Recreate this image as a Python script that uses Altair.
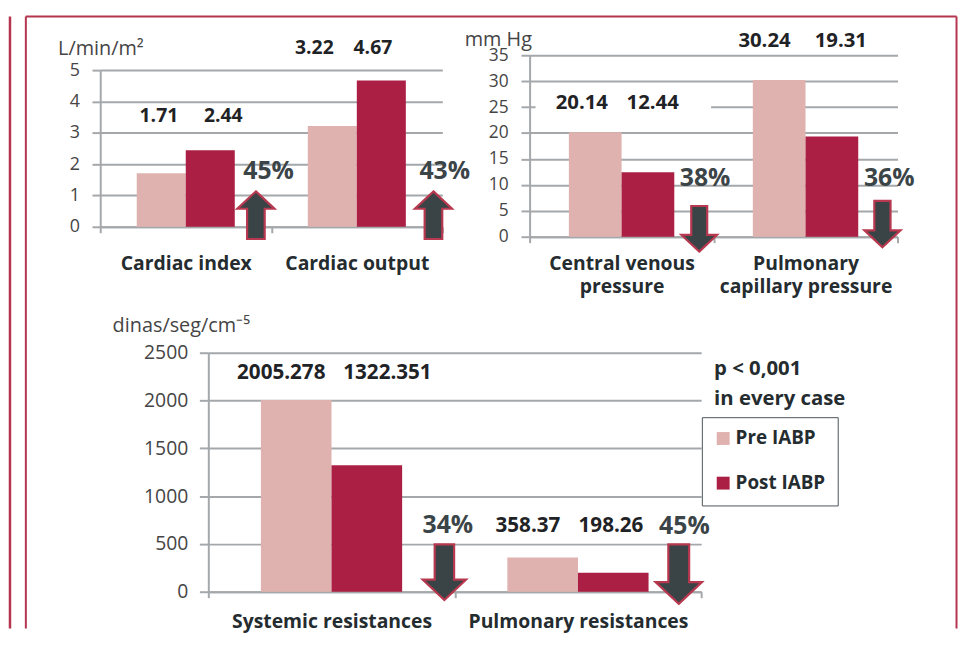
import altair as alt
import pandas as pd

# ---------------- data ----------------
series = ["Pre IABP", "Post IABP"]
series_colors = ["#dfb2af", "#ab1f45"]

ci_co_categories = ["Cardiac index", "Cardiac output"]
ci_co_pre = [1.71, 3.22]
ci_co_post = [2.44, 4.67]
ci_co_change = ["45%", "43%"]
ci_co_direction = ["up", "up"]
ci_co_unit = "L/min/m²"
ci_co_ticks = [0, 1, 2, 3, 4, 5]

pressure_categories = ["Central venous pressure", "Pulmonary capillary pressure"]
pressure_label_lines = [["Central venous", "pressure"], ["Pulmonary", "capillary pressure"]]
pressure_pre = [20.14, 30.24]
pressure_post = [12.44, 19.31]
pressure_change = ["38%", "36%"]
pressure_direction = ["down", "down"]
pressure_unit = "mm Hg"
pressure_ticks = [0, 5, 10, 15, 20, 25, 30, 35]

resist_categories = ["Systemic resistances", "Pulmonary resistances"]
resist_pre = [2005.278, 358.37]
resist_post = [1322.351, 198.26]
resist_change = ["34%", "45%"]
resist_direction = ["down", "down"]
resist_unit = "dinas/seg/cm⁻⁵"
resist_ticks = [0, 500, 1000, 1500, 2000, 2500]

significance_lines = ["p < 0,001", "in every case"]

# ---------------- style / layout ----------------
FONT = "Open Sans"
GRID = "#a4a8ab"
TICK = "#454545"
DARK = "#252c2f"
VALUE = "#1f2326"
PCT = "#3b4447"
ARROW_FILL = "#3a4447"
ARROW_STROKE = "#b8394f"
FRAME = "#b5354f"

UP = "M0,-1L0.78,-0.27L0.37,-0.27L0.37,1L-0.37,1L-0.37,-0.27L-0.78,-0.27Z"
DOWN = "M0,1L0.78,0.27L0.35,0.27L0.35,-1L-0.35,-1L-0.35,0.27L-0.78,0.27Z"

L1 = dict(width=345, height=183, xrange=None, yrange=[173, 15], xoffset=-10, yoffset=0,
          band=172.5, label_pad=22.5, tick_font=18, tick_size=8.3, tick_pad=12.7,
          title_x=-43, title_y=-0.5, val_font=19.5,
          val_band=[0.343, 0.719, 0.252, 0.594], val_y=[3.53, 3.53, 5.70, 5.70],
          pct_band=[0.984, 1.0], pct_dx=[0, 2.4], pct_y=[1.79, 1.79],
          arr_band=[0.910, 0.948], arr_y=[0.37, 0.37], arr_size=[2304, 2304])
L2 = dict(width=371, height=183, xrange=None, yrange=None, xoffset=0, yoffset=0,
          band=185.5, label_pad=11.6, tick_font=17.5, tick_size=8.7, tick_pad=13,
          title_x=-66, title_y=-10.3, val_font=20.5,
          val_band=[0.284, 0.669, 0.277, 0.692], val_y=[25.8, 25.8, 37.77, 37.77],
          pct_band=[0.954, 0.955], pct_dx=[0, 0], pct_y=[11.34, 11.34],
          arr_band=[0.922, 0.918], arr_y=[1.53, 2.43], arr_size=[2116, 2180])
L3 = dict(width=345, height=241, xrange=[109, 606], yrange=None, xoffset=0, yoffset=-109,
          band=248.5, label_pad=15, tick_font=19.5, tick_size=9, tick_pad=11.7,
          title_x=-97, title_y=-21, val_font=20.8,
          val_band=[0.296, 0.727, 0.297, 0.634], val_y=[2292, 2292, 685, 685],
          pct_band=[0.972, 0.932], pct_dx=[0, 0], pct_y=[702, 682],
          arr_band=[0.958, 0.909], arr_y=[204, 184], arr_size=[3136, 3600])

one = pd.DataFrame({"k": [0]})


def build_panel(cats, pre, post, change, direction, unit, ticks, L,
                legend=None, label_lines=None, under=(), over=()):
    rows, texts = [], []
    for c, a, b in zip(cats, pre, post):
        rows.append({"cat": c, "series": series[0], "value": a})
        rows.append({"cat": c, "series": series[1], "value": b})
        texts += [str(a), str(b)]
    bars_df = pd.DataFrame(rows)

    xaxis_kw = dict(title=None, labelAngle=0, tickBand="extent", grid=False,
                    domainColor=GRID, domainWidth=2, tickColor=GRID, tickWidth=2,
                    tickSize=6, labelFont=FONT, labelFontSize=19.5,
                    labelFontWeight="bold", labelColor=DARK,
                    labelPadding=L["label_pad"], labelBaseline="top",
                    labelLimit=400, offset=L["xoffset"], labelLineHeight=23.5)
    if label_lines:
        expr = "datum.label"
        for c, lines in zip(cats, label_lines):
            arr = "[" + ",".join("'" + s + "'" for s in lines) + "]"
            expr = f"datum.label == '{c}' ? {arr} : ({expr})"
        xaxis_kw["labelExpr"] = expr
    xaxis = alt.Axis(**xaxis_kw)
    xscale_kw = dict(paddingInner=0, paddingOuter=0)
    if L["xrange"]:
        xscale_kw["range"] = L["xrange"]
    xscale = alt.Scale(**xscale_kw)
    yscale_kw = dict(domain=[ticks[0], ticks[-1]], nice=False)
    if L["yrange"]:
        yscale_kw["range"] = L["yrange"]
    yscale = alt.Scale(**yscale_kw)
    yaxis = alt.Axis(values=ticks, format="d", grid=True, gridColor=GRID, gridWidth=2,
                     domainColor=GRID, domainWidth=2, tickColor=GRID, tickWidth=2,
                     tickSize=L["tick_size"], labelFont=FONT,
                     labelFontSize=L["tick_font"], labelColor=TICK,
                     labelPadding=L["tick_pad"], title=unit, titleAngle=0,
                     titleAlign="left", titleBaseline="alphabetic",
                     titleX=L["title_x"], titleY=L["title_y"], titleFont=FONT,
                     titleFontSize=20, titleFontWeight="normal", titleColor=TICK,
                     offset=L["yoffset"])

    def X(bp=None):
        if bp is None:
            return alt.X("cat:N", sort=cats, scale=xscale, axis=xaxis)
        return alt.X("cat:N", sort=cats, scale=xscale, axis=xaxis, bandPosition=bp)

    def Y(field):
        return alt.Y(field, scale=yscale, axis=yaxis)

    bars = alt.Chart(bars_df).mark_bar().encode(
        x=X(),
        xOffset=alt.XOffset("series:N", sort=series,
                            scale=alt.Scale(range=[0, L["band"]], paddingInner=0,
                                            paddingOuter=0.745)),
        y=Y("value:Q"),
        color=alt.Color("series:N", sort=series,
                        scale=alt.Scale(domain=series, range=series_colors),
                        legend=legend),
    )
    layers = [bars] + list(under)
    for i, (c, t) in enumerate(zip(bars_df["cat"].tolist(), texts)):
        d = pd.DataFrame({"cat": [c], "text": [t], "ypos": [L["val_y"][i]]})
        layers.append(alt.Chart(d).mark_text(
            font=FONT, fontSize=L["val_font"], fontWeight="bold", color=VALUE,
            baseline="middle", align="center").encode(
            x=X(L["val_band"][i]), y=Y("ypos:Q"), text="text:N"))
    for j, c in enumerate(cats):
        d = pd.DataFrame({"cat": [c], "text": [change[j]], "ypos": [L["pct_y"][j]]})
        layers.append(alt.Chart(d).mark_text(
            font=FONT, fontSize=25, fontWeight="bold", color=PCT,
            baseline="middle", align="center", dx=L["pct_dx"][j]).encode(
            x=X(L["pct_band"][j]), y=Y("ypos:Q"), text="text:N"))
        d2 = pd.DataFrame({"cat": [c], "ypos": [L["arr_y"][j]]})
        layers.append(alt.Chart(d2).mark_point(
            shape=UP if direction[j] == "up" else DOWN, filled=True,
            fill=ARROW_FILL, stroke=ARROW_STROKE, strokeWidth=2.2, opacity=1,
            size=L["arr_size"][j]).encode(x=X(L["arr_band"][j]), y=Y("ypos:Q")))
    layers += list(over)
    return alt.layer(*layers).properties(width=L["width"], height=L["height"])


# frame decoration (drawn with the first panel, in its pixel space)
frame = [
    alt.Chart(one).mark_rule(color=FRAME, strokeWidth=2.5).encode(
        x=alt.value(-91), y=alt.value(-39), y2=alt.value(578)),
    alt.Chart(one).mark_rule(color=FRAME, strokeWidth=2).encode(
        x=alt.value(-75), x2=alt.value(863.5), y=alt.value(-39)),
    alt.Chart(one).mark_rule(color=FRAME, strokeWidth=2).encode(
        x=alt.value(-75), y=alt.value(-39), y2=alt.value(578)),
    alt.Chart(one).mark_rule(color=FRAME, strokeWidth=2).encode(
        x=alt.value(863.5), y=alt.value(-39), y2=alt.value(578)),
]

p1 = build_panel(ci_co_categories, ci_co_pre, ci_co_post, ci_co_change,
                 ci_co_direction, ci_co_unit, ci_co_ticks, L1, over=frame)

mask = alt.Chart(one).mark_rect(color="white").encode(
    x=alt.value(6), x2=alt.value(183), y=alt.value(40), y2=alt.value(62))
p2 = build_panel(pressure_categories, pressure_pre, pressure_post, pressure_change,
                 pressure_direction, pressure_unit, pressure_ticks, L2,
                 label_lines=pressure_label_lines, under=[mask])

sig_layers = []
for txt, yy in zip(significance_lines, [16, 47]):
    sig_layers.append(alt.Chart(pd.DataFrame({"t": [txt]})).mark_text(
        font=FONT, fontSize=20.5, fontWeight="bold", color=DARK,
        align="left", baseline="middle").encode(
        x=alt.value(619), y=alt.value(yy), text="t:N"))

legend = alt.Legend(orient="none", legendX=606.7, legendY=65, title=None,
                    symbolType="square", symbolSize=169, symbolStrokeWidth=0,
                    symbolOpacity=1, labelFont=FONT, labelFontSize=19,
                    labelFontWeight="bold", labelColor=DARK, padding=12,
                    strokeColor="#4b5558", fillColor="white", rowPadding=25,
                    labelOffset=3)
p3 = build_panel(resist_categories, resist_pre, resist_post, resist_change,
                 resist_direction, resist_unit, resist_ticks, L3,
                 legend=legend, over=sig_layers)

spacer = alt.Chart(one).mark_point(opacity=0).encode(
    x=alt.value(0), y=alt.value(0)).properties(width=10, height=10)

chart = alt.concat(
    p1, p2, p3, spacer, columns=2,
    spacing={"row": 117, "column": 88}, bounds="flush", align="each",
).resolve_scale(color="independent", xOffset="independent").resolve_legend(
    color="independent").properties(
    padding={"left": 0, "top": 4, "right": 0, "bottom": 0},
    background="white",
).configure(font=FONT).configure_view(stroke=None)

chart.save("out.html", embed_options={"renderer": "svg", "actions": False})
